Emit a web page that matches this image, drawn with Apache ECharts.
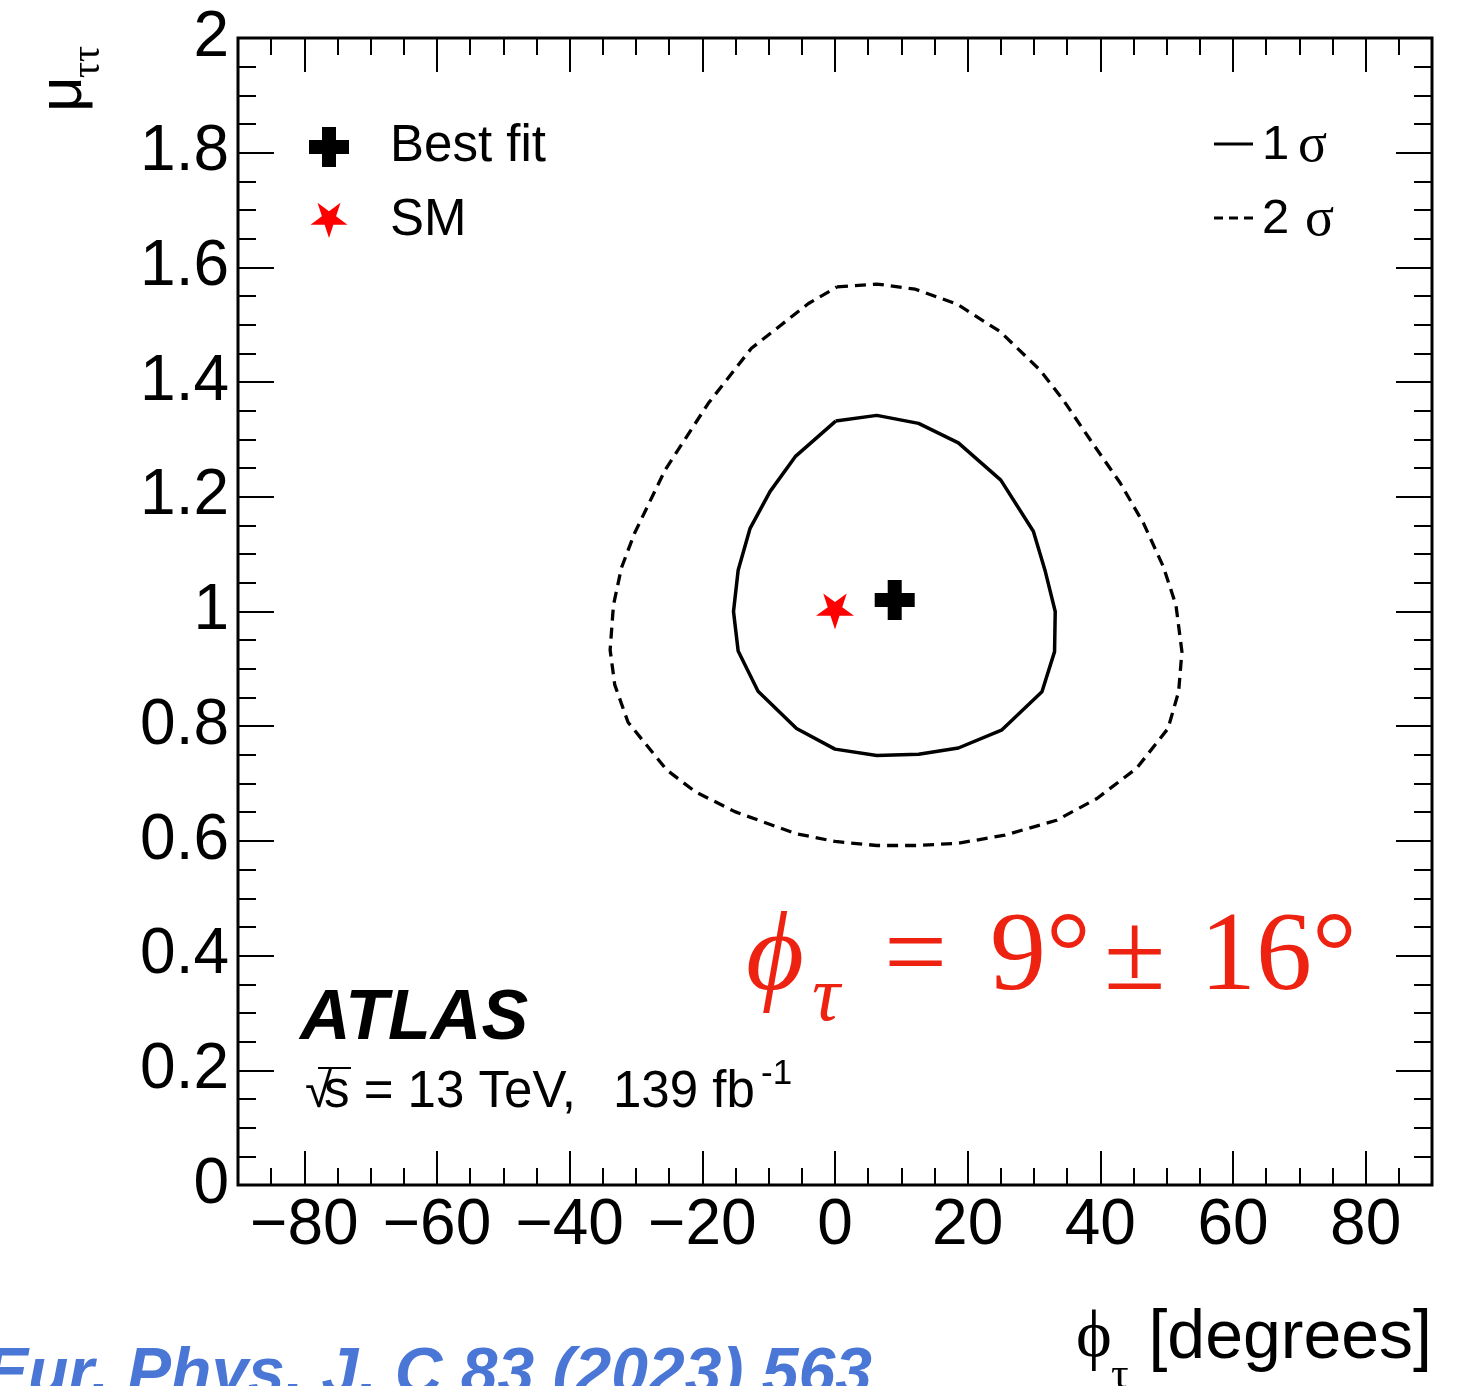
<!DOCTYPE html>
<html>
<head>
<meta charset="utf-8">
<script src="https://cdn.jsdelivr.net/npm/echarts@6/dist/echarts.min.js"></script>
<style>
  html, body { margin: 0; padding: 0; background: #ffffff; }
  #chart { width: 1470px; height: 1386px; }
</style>
</head>
<body>
<div id="chart"></div>
<script>
// Axis ranges and tick labels
const phiRange = [-90, 90];
const muRange = [0, 2];
const xTickValues = [-80, -60, -40, -20, 0, 20, 40, 60, 80];
const yTickValues = [0, 0.2, 0.4, 0.6, 0.8, 1, 1.2, 1.4, 1.6, 1.8, 2];

// 68% CL contour (1 sigma) in (phi_tau [deg], mu_tautau)
const contour1Sigma = [
  [0.1, 1.332], [6.3, 1.342], [12.6, 1.328], [18.6, 1.294], [25.0, 1.229],
  [29.9, 1.140], [31.7, 1.070], [33.2, 1.000], [33.1, 0.930], [31.2, 0.860],
  [25.1, 0.793], [18.6, 0.762], [12.6, 0.751], [6.3, 0.749], [0.0, 0.760],
  [-5.8, 0.796], [-11.6, 0.861], [-14.6, 0.931], [-15.3, 1.000], [-14.6, 1.072],
  [-12.8, 1.145], [-9.8, 1.209], [-6.0, 1.270], [0.1, 1.332]
];

// 95% CL contour (2 sigma)
const contour2Sigma = [
  [0.3, 1.566], [6.3, 1.571], [12.1, 1.562], [18.4, 1.536], [24.9, 1.488],
  [30.9, 1.421], [34.4, 1.369], [38.5, 1.299], [43.0, 1.224], [46.5, 1.154],
  [49.5, 1.078], [51.4, 1.011], [52.3, 0.930], [51.8, 0.860], [50.2, 0.796],
  [45.5, 0.727], [39.5, 0.674], [33.4, 0.636], [25.6, 0.610], [18.6, 0.596],
  [12.3, 0.592], [6.3, 0.592], [0.0, 0.599], [-6.0, 0.613], [-15.1, 0.651],
  [-21.1, 0.686], [-25.4, 0.724], [-31.2, 0.807], [-33.2, 0.872], [-33.9, 0.933],
  [-33.4, 1.011], [-32.2, 1.076], [-30.2, 1.137], [-25.6, 1.247], [-19.1, 1.363],
  [-12.6, 1.459], [-4.0, 1.537], [0.3, 1.566]
];

// Best-fit point and Standard Model expectation
const bestFit = [[9, 1.02]];
const smPoint = [[0, 1]];

const SANS = '"Liberation Sans", Arial, Helvetica, sans-serif';
const SERIF = '"Liberation Serif", "Times New Roman", "DejaVu Serif", serif';

const PLUS_SYMBOL = 'path://M13,0H27V13H40V27H27V40H13V27H0V13H13Z';
const STAR_SYMBOL = 'path://M100,200L77.5,130.9L4.9,130.9L63.7,88.2L41.2,19.1L100,61.8L158.8,19.1L136.3,88.2L195.1,130.9L122.5,130.9Z';

function starPoints(cx, cy, R) {
  const pts = [];
  for (let i = 0; i < 10; i++) {
    const a = (90 + 36 * i) * Math.PI / 180;
    const r = i % 2 === 0 ? R : R * 0.382;
    pts.push([cx + r * Math.cos(a), cy + r * Math.sin(a)]);
  }
  return pts;
}

const fmtPhi = v => (v < 0 ? '\u2212' + Math.abs(v) : String(v));

const tickStyle = { color: '#000', width: 2 };

function xAxisSet(position, withLabels) {
  return [
    {
      type: 'value', gridIndex: 0, position: position,
      min: phiRange[0], max: phiRange[1],
      axisLine: { show: false, onZero: false },
      splitLine: { show: false },
      axisTick: { show: true, inside: true, length: 34, customValues: xTickValues, lineStyle: tickStyle },
      axisLabel: withLabels ? {
        show: true, customValues: xTickValues, formatter: fmtPhi,
        fontFamily: SANS, fontSize: 64, color: '#000', margin: 9
      } : { show: false }
    },
    {
      type: 'value', gridIndex: 0, position: position,
      min: phiRange[0], max: phiRange[1], interval: 5,
      axisLine: { show: false, onZero: false },
      splitLine: { show: false },
      axisTick: { show: true, inside: true, length: 17, lineStyle: tickStyle },
      axisLabel: { show: false }
    }
  ];
}

function yAxisDef(position, withLabels) {
  return {
    type: 'value', gridIndex: 0, position: position,
    min: muRange[0], max: muRange[1], interval: 0.2,
    axisLine: { show: false, onZero: false },
    splitLine: { show: false },
    axisTick: { show: true, inside: true, length: 36, lineStyle: tickStyle },
    minorTick: { show: true, splitNumber: 4, length: 18, lineStyle: tickStyle },
    axisLabel: withLabels ? {
      show: true, customValues: yTickValues,
      fontFamily: SANS, fontSize: 64, color: '#000', margin: 9
    } : { show: false }
  };
}

const chart = echarts.init(document.getElementById('chart'), null, { renderer: 'canvas' });

const textEl = (x, y, text, font, opts) => Object.assign({
  type: 'text', x: x, y: y, silent: true, z: 20,
  style: Object.assign({ text: text, font: font, fill: '#000', align: 'left', verticalAlign: 'middle' }, (opts && opts.style) || {})
}, (opts && opts.el) || {});

const RED = '#ee2211';
const redStyle = { style: { fill: RED } };

const option = {
  animation: false,
  backgroundColor: '#ffffff',
  grid: {
    left: 238, top: 38, width: 1194, height: 1147,
    show: true, borderColor: '#000', borderWidth: 3, backgroundColor: 'transparent'
  },
  xAxis: [].concat(xAxisSet('bottom', true), xAxisSet('top', false)),
  yAxis: [yAxisDef('left', true), yAxisDef('right', false)],
  series: [
    {
      name: '2 sigma', type: 'line', xAxisIndex: 0, yAxisIndex: 0,
      data: contour2Sigma, showSymbol: false, symbol: 'none', smooth: false,
      lineStyle: { color: '#000', width: 3.3, type: [11, 7] }, z: 3, silent: true
    },
    {
      name: '1 sigma', type: 'line', xAxisIndex: 0, yAxisIndex: 0,
      data: contour1Sigma, showSymbol: false, symbol: 'none', smooth: false,
      lineStyle: { color: '#000', width: 3.5 }, z: 3, silent: true
    },
    {
      name: 'SM', type: 'scatter', xAxisIndex: 0, yAxisIndex: 0,
      data: smPoint, symbol: STAR_SYMBOL, symbolSize: [38, 36],
      itemStyle: { color: '#ff0000', opacity: 1 }, z: 5, silent: true
    },
    {
      name: 'Best fit', type: 'scatter', xAxisIndex: 0, yAxisIndex: 0,
      data: bestFit, symbol: PLUS_SYMBOL, symbolSize: 40,
      itemStyle: { color: '#000', opacity: 1 }, z: 5, silent: true
    }
  ],
  graphic: [
    // Legend: markers
    { type: 'rect', silent: true, z: 20, shape: { x: 309, y: 140, width: 40, height: 14 }, style: { fill: '#000' } },
    { type: 'rect', silent: true, z: 20, shape: { x: 322, y: 127, width: 14, height: 40 }, style: { fill: '#000' } },
    { type: 'polygon', silent: true, z: 20, shape: { points: starPoints(329, 218.6, 19.5) }, style: { fill: '#ff0000' } },
    textEl(390, 147, 'Best fit', '51px ' + SANS),
    textEl(390, 221, 'SM', '51px ' + SANS),

    // Legend: contour line styles
    { type: 'line', silent: true, z: 20, shape: { x1: 1214, y1: 144, x2: 1253, y2: 144 }, style: { stroke: '#000', lineWidth: 3 } },
    { type: 'line', silent: true, z: 20, shape: { x1: 1214, y1: 218, x2: 1253, y2: 218 }, style: { stroke: '#000', lineWidth: 3, lineDash: [9, 6] } },
    textEl(1262, 145, '1', '49px ' + SANS),
    textEl(1298, 147, '\u03c3', '54px ' + SERIF),
    textEl(1262, 219, '2', '49px ' + SANS),
    textEl(1305, 221, '\u03c3', '54px ' + SERIF),

    // Experiment label
    textEl(300, 1020, 'ATLAS', 'italic bold 70px ' + SANS),
    textEl(305, 1093, '\u221a', '50px ' + SANS),
    { type: 'line', silent: true, z: 20, shape: { x1: 318, y1: 1068, x2: 351, y2: 1068 }, style: { stroke: '#000', lineWidth: 2 } },
    textEl(324, 1093, 's = 13 TeV,', '51px ' + SANS),
    textEl(613, 1093, '139 fb', '51px ' + SANS),
    textEl(761, 1074, '-1', '35px ' + SANS),

    // Result annotation
    textEl(746, 960, '\u03d5', 'italic 112px ' + SERIF, redStyle),
    textEl(812, 999, '\u03c4', 'italic 78px ' + SERIF, redStyle),
    textEl(884, 960, '=', '112px ' + SERIF, redStyle),
    textEl(990, 960, '9\u00b0', '112px ' + SERIF, redStyle),
    textEl(1104, 960, '\u00b1', '112px ' + SERIF, redStyle),
    textEl(1200, 960, '16\u00b0', '112px ' + SERIF, redStyle),

    // Axis titles
    textEl(1432, 1339, '[degrees]', '68px ' + SANS, { style: { align: 'right' } }),
    textEl(1076, 1339, '\u03d5', '68px ' + SERIF),
    textEl(1111, 1376, '\u03c4', '44px ' + SERIF),
    textEl(64, 112, '\u03bc', '62px ' + SANS, { el: { rotation: Math.PI / 2 } }),
    textEl(88, 78, '\u03c4\u03c4', '40px ' + SERIF, { el: { rotation: Math.PI / 2 } }),

    // Reference
    textEl(-16, 1376, 'Eur. Phys. J. C 83 (2023) 563', 'italic bold 66px ' + SANS, { style: { fill: '#4a76d6' } })
  ]
};

chart.setOption(option);
</script>
</body>
</html>
